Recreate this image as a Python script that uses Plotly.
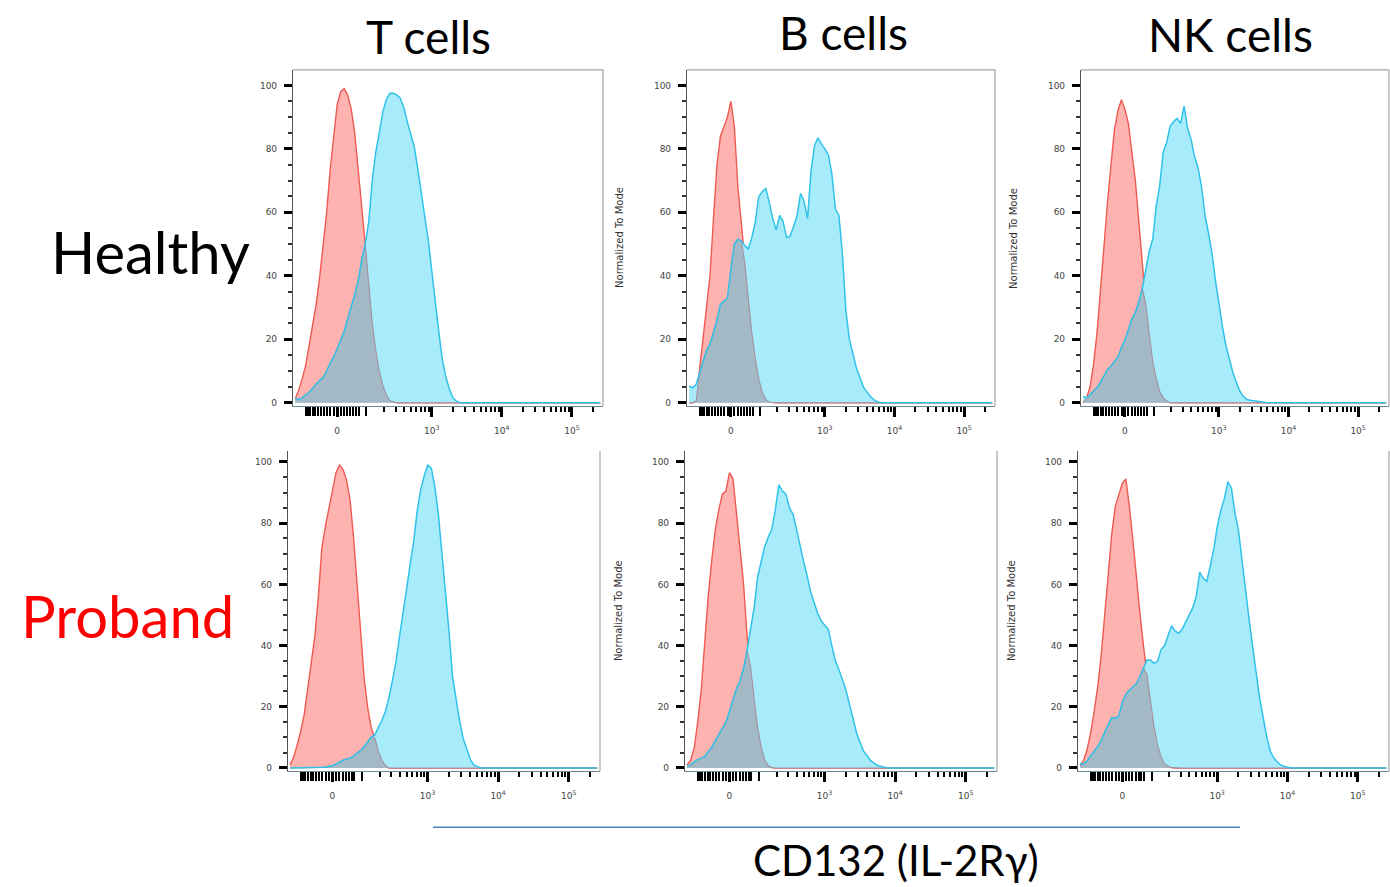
import numpy as np
import plotly.graph_objects as go

W, H = 1390, 887

# ---------------- data ----------------
# Histogram bin centres in biexponential display units (0 -> 0, 10^3 -> 1.35, 10^4 -> 2.35 ...)
X_START, X_STEP, N_BINS = -0.60, 0.05, 88
u_bins = np.round(X_START + X_STEP * np.arange(N_BINS), 2)

columns = ["T cells", "B cells", "NK cells"]
rows = ["Healthy", "Proband"]
x_tick_labels = ["0", "10<sup>3</sup>", "10<sup>4</sup>", "10<sup>5</sup>"]
x_tick_values = [0, 1e3, 1e4, 1e5]
y_tick_values = [0, 20, 40, 60, 80, 100]

# Normalized-to-mode counts per bin (isotype = red, CD132 = cyan); trailing bins are empty
red_T_healthy = [1.2, 3.8, 7.5, 11.7, 18, 24, 31, 39.6, 49, 60, 73.5, 84.5,
                 94, 98, 99, 97, 92.5, 85, 74, 62, 50, 37, 25, 16.5, 10, 5.5, 2.6, 0.6, 0.2]
cyan_T_healthy = [1.5, 1, 1.5, 2.3, 3.3, 4.6, 5.9, 7, 8, 10, 12.5, 14.5,
                  17, 19.5, 22.5, 26.5, 30, 34, 38.5, 45, 50, 57,
                  70, 79, 85, 91.5, 95.5, 97.5, 97.5, 97, 96, 93,
                  88.5, 84, 80.5, 73.5, 66.5, 58.5, 51, 41, 30.5, 22,
                  13.5, 8, 4.3, 1.5, 0.5]

red_B_healthy = [0, 0, 0.5, 10, 20, 29, 40, 58, 75, 84, 87, 90,
                 95, 87, 68, 57, 44, 33, 22, 14, 7.5, 3.3, 1, 0.2]
cyan_B_healthy = [5.2, 4.7, 5.7, 9, 13, 16.5, 18.5, 22, 26, 31, 32, 33,
                  42, 50, 51.5, 51, 49.5, 48.5, 52, 57, 65, 66.5,
                  67.5, 63.3, 58, 54.5, 59, 57, 52, 52.5, 55.5, 59,
                  66, 63.5, 58, 73, 81, 83.5, 81.5, 80, 78, 72,
                  61, 59, 47, 29, 20, 15, 11, 8, 5, 3.5,
                  2, 1, 0.3]

red_NK_healthy = [0, 1.5, 5, 12, 22, 36, 51, 63, 75, 86, 92, 95.5,
                  92.5, 88, 79, 70, 57, 44, 31, 21.5, 13, 7.5, 3.6, 1.6, 0.5]
cyan_NK_healthy = [2, 1.5, 2.5, 3.5, 4.8, 6.4, 8.2, 10.4, 11.6, 13, 14.4, 17.3,
                   19.7, 23, 26.5, 28.4, 31.8, 36, 42.4, 47.8, 51.6, 62,
                   68.5, 79, 82, 87.2, 88.6, 89.6, 88, 93.5, 86.5, 83,
                   77.5, 74, 68, 59, 53.4, 47, 38.5, 31, 24, 18,
                   13.5, 9.5, 6.4, 3.6, 2, 1, 0.8, 0.6, 0.5, 0.3]

red_T_proband = [1, 3.5, 7.5, 12, 17.5, 26, 34.5, 43, 56, 72, 79, 85,
                 91, 96.5, 99, 97.5, 94, 87.5, 75, 59, 44, 29, 19.5, 13, 9.8, 5.4, 2.5, 0.8]
cyan_T_proband = [0, 0, 0, 0, 0, 0, 0, 0, 0.1, 0.2, 0.3, 0.4,
                  0.7, 1.3, 2, 2.5, 2.9, 3.2, 3.9, 4.7, 5.8, 7,
                  8.7, 10.1, 10.8, 13, 15.6, 18.4, 23, 28.7, 34.7, 43,
                  51.5, 58.5, 66.5, 74, 84, 91, 95.5, 99, 98, 92,
                  83, 71, 58, 45, 30, 22, 15.5, 9.8, 6, 3,
                  1, 0.5]

red_B_proband = [1, 2.5, 6.5, 15, 25.5, 41, 56.5, 68, 78, 84.5, 89.5, 90.5,
                 96.5, 94.5, 83.5, 73, 60, 42.8, 33, 22.4, 13.2, 6.8, 2.6, 0.8, 0.1]
cyan_B_proband = [0.6, 1.1, 2, 2.8, 3.2, 3.8, 5.3, 6.8, 9, 11, 13, 15,
                  18.5, 22, 26, 28.5, 32.5, 38.5, 45.5, 52.5, 62.5, 67.8,
                  72.5, 75.5, 78, 84.5, 92.5, 90.5, 89.5, 85, 83, 78,
                  72.5, 67.5, 62.8, 57.5, 54, 50.5, 48, 46.7, 45.3, 40,
                  35, 32.2, 29, 25.5, 20.8, 15.9, 11.5, 8.3, 5.5, 4,
                  2.4, 1.5, 0.8, 0.5, 0.2]

red_NK_proband = [0.9, 2.5, 6, 11.5, 18.5, 26.5, 37, 50.5, 64.5, 76.5, 85.5, 89,
                  93, 94.5, 85.5, 74.5, 62, 50.5, 40, 30.5, 21.3, 13.5, 7.5, 3.7, 1.4, 0.6, 0.1]
cyan_NK_proband = [1.4, 1.4, 2.3, 4.1, 5.6, 7.1, 8.9, 11.7, 14, 16.5, 16.2, 17,
                   21.5, 24, 25.4, 26.6, 27.6, 29.8, 32.8, 35.3, 35.3, 34.2,
                   34.8, 38.6, 40, 43, 46.5, 44.8, 44, 45.3, 47.5, 49.8,
                   52.3, 56, 64, 62, 61, 66, 71.6, 79, 84.2, 88,
                   93.5, 91.5, 83.5, 77.7, 69, 58.5, 48.8, 39.3, 31.5, 23,
                   16.5, 10.5, 5.7, 3.3, 2, 1, 0.5, 0.2]

# ---------------- styling ----------------
RED_FILL, RED_LINE = "#FFB3B1", "#EE5A52"
CYAN_FILL, CYAN_LINE = "#A8ECFC", "#30C2E8"
OVER_FILL, OVER_LINE = "#A3B9C6", "#A2909E"
FRAME = "#A6A6A6"
TICK_FONT = dict(family="DejaVu Sans", size=9, color="#444444")
TEXT_FONT = "Lato"


def pad(v):
    v = list(v)
    assert len(v) <= N_BINS
    return np.array(v + [0.0] * (N_BINS - len(v)), dtype=float)


def biex(v):
    return np.arcsinh(np.asarray(v, dtype=float) / 90.0) / np.log(10)


X_RANGE = [-0.63, 3.79]
major_pos = list(biex(x_tick_values))
minor_vals = [m * 10 ** k for k in (2, 3, 4) for m in range(2, 10)] + [2e5]
minor_pos = list(biex(minor_vals))
barcode_vals = [-110, -100, -90, -80, -70, -60, -50, -40, -30, -20, -10,
                10, 20, 30, 40, 50, 60, 70, 100]
barcode_pos = list(biex(barcode_vals))

series = [
    (red_T_healthy, cyan_T_healthy), (red_B_healthy, cyan_B_healthy), (red_NK_healthy, cyan_NK_healthy),
    (red_T_proband, cyan_T_proband), (red_B_proband, cyan_B_proband), (red_NK_proband, cyan_NK_proband),
]
# pixel boxes (left, right, top, bottom) and y ranges
boxes = [
    (293, 603, 70, 407), (687, 995, 70, 407), (1081, 1389, 70, 407),
    (288, 600, 452, 773), (685, 997, 452, 773), (1078, 1389, 452, 773),
]
y_ranges = [(-1.07, 104.9)] * 3 + [(-1.08, 103.6)] * 3
show_ytitle = [False, True, True, False, True, True]

fig = go.Figure()
layout = dict(width=W, height=H, margin=dict(l=0, r=0, t=0, b=0),
              paper_bgcolor="white", plot_bgcolor="white", showlegend=False)
shapes, annotations = [], []

for i, ((red, cyan), (L, R, T, B), yr) in enumerate(zip(series, boxes, y_ranges), start=1):
    xa, ya = f"x{i}", f"y{i}"
    xb = f"x{6 + i}"
    r = pad(red)
    c = pad(cyan)
    ov = np.minimum(r, c)
    common = dict(x=u_bins, xaxis=xa, yaxis=ya, mode="lines", hoverinfo="skip")
    fig.add_trace(go.Scatter(y=r, fill="tozeroy", fillcolor=RED_FILL,
                             line=dict(width=0, color=RED_FILL), **common))
    fig.add_trace(go.Scatter(y=r, line=dict(width=1.4, color=RED_LINE), **common))
    fig.add_trace(go.Scatter(y=c, fill="tozeroy", fillcolor=CYAN_FILL,
                             line=dict(width=0, color=CYAN_FILL), **common))
    fig.add_trace(go.Scatter(y=ov, fill="tozeroy", fillcolor=OVER_FILL,
                             line=dict(width=1.1, color=OVER_LINE), **common))
    fig.add_trace(go.Scatter(y=c, line=dict(width=1.5, color=CYAN_LINE), **common))
    # invisible carrier so the overlay tick axis is drawn
    fig.add_trace(go.Scatter(x=[0], y=[50], xaxis=xb, yaxis=ya, mode="markers",
                             marker=dict(opacity=0, size=1), hoverinfo="skip"))

    xd = [L / W, R / W]
    yd = [1 - B / H, 1 - T / H]
    kx = "xaxis" if i == 1 else f"xaxis{i}"
    ky = "yaxis" if i == 1 else f"yaxis{i}"
    layout[kx] = dict(domain=xd, anchor=ya, range=X_RANGE, showgrid=False, zeroline=False,
                      showline=True, linecolor="#6E8794", linewidth=1.2,
                      tickmode="array", tickvals=major_pos, ticktext=x_tick_labels,
                      ticks="outside", ticklen=10, tickwidth=3, tickcolor="black",
                      tickfont=TICK_FONT, ticklabelstandoff=6,
                      minor=dict(tickmode="array", tickvals=minor_pos, ticks="outside",
                                 ticklen=5, tickwidth=1.5, tickcolor="black", showgrid=False))
    layout[ky] = dict(domain=yd, anchor=xa, range=list(yr), showgrid=False, zeroline=False,
                      showline=True, linecolor="#555555", linewidth=1.2,
                      tickmode="array", tickvals=y_tick_values,
                      ticks="outside", ticklen=8, tickwidth=2.5, tickcolor="black",
                      tickfont=TICK_FONT, ticklabelstandoff=5,
                      minor=dict(dtick=5, tick0=0, ticks="outside", ticklen=4, tickwidth=1.5,
                                 tickcolor="#333333", showgrid=False))
    # dense linear-region tick "barcode" near zero
    layout[f"xaxis{6 + i}"] = dict(overlaying=xa, anchor=ya, side="bottom", range=X_RANGE,
                                   showgrid=False, zeroline=False, showline=False,
                                   showticklabels=False,
                                   tickmode="array", tickvals=barcode_pos,
                                   ticks="outside", ticklen=9, tickwidth=1.6, tickcolor="black")
    # frame
    if i <= 3:
        shapes.append(dict(type="line", xref="paper", yref="paper", x0=L / W, x1=R / W,
                           y0=1 - T / H, y1=1 - T / H, line=dict(color=FRAME, width=1.2)))
    shapes.append(dict(type="line", xref="paper", yref="paper", x0=R / W, x1=R / W,
                       y0=1 - T / H, y1=1 - B / H, line=dict(color=FRAME, width=1.2)))
    if show_ytitle[i - 1]:
        annotations.append(dict(text="Normalized To Mode", xref="paper", yref="paper",
                                x=(L - 67) / W, y=1 - (T + B) / 2 / H, textangle=-90,
                                showarrow=False, xanchor="center", yanchor="middle",
                                font=dict(family="DejaVu Sans", size=10, color="#333333")))

# column / row titles
col_centers = [(428, 37), (843, 33), (1230, 35)]
for name, (cx, cy) in zip(columns, col_centers):
    annotations.append(dict(text=name, xref="paper", yref="paper", x=cx / W, y=1 - cy / H,
                            showarrow=False, xanchor="center", yanchor="middle",
                            font=dict(family=TEXT_FONT, size=46, color="black")))
row_pos = [(150, 252, "black"), (127, 617, "#FF0000")]
for name, (cx, cy, col) in zip(rows, row_pos):
    annotations.append(dict(text=name, xref="paper", yref="paper", x=cx / W, y=1 - cy / H,
                            showarrow=False, xanchor="center", yanchor="middle",
                            font=dict(family=TEXT_FONT, size=58, color=col)))
annotations.append(dict(text="CD132 (IL-2Rγ)", xref="paper", yref="paper",
                        x=896 / W, y=1 - 862 / H, showarrow=False,
                        xanchor="center", yanchor="middle",
                        font=dict(family=TEXT_FONT, size=42, color="black")))
shapes.append(dict(type="line", xref="paper", yref="paper", x0=433 / W, x1=1240 / W,
                   y0=1 - 829 / H, y1=1 - 829 / H, line=dict(color="#4F81BD", width=1.5)))

layout["shapes"] = shapes
layout["annotations"] = annotations
fig.update_layout(**layout)
fig.write_html("out.html")
